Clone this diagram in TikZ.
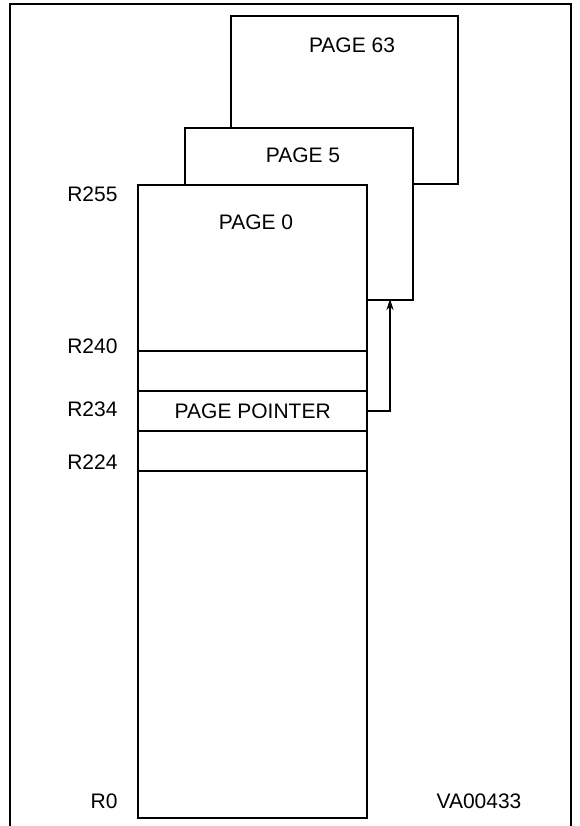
\documentclass[tikz,border=0pt]{standalone}
\usepackage{fontspec}
\setmainfont{Liberation Sans}
\usetikzlibrary{positioning}
\usetikzlibrary{arrows.meta}
\tikzset{x=1pt, y=-1pt,
    every node/.style={
        font=\fontsize{21}{25}\selectfont},
    page/.style={
        draw,
        fill=white,
        line width=2.4pt,
        inner sep=0pt,
        anchor=north west},
    reg/.style={
        anchor=east},
    link/.style={
        draw,
        line width=2.2pt,
        -{Stealth[length=11pt,width=7pt]}}}

\begin{document}
\begin{tikzpicture}
        \useasboundingbox (0,0) rectangle (579,826);
        \draw[line width=2.4pt] (10,826) -- (10,4) -- (571,4) -- (571,826);

        % stacked pages
        \node[page, minimum width=227pt, minimum height=168pt] (page63) at (230,15) {};
        \node[page, minimum width=228pt, minimum height=172pt] (page5) at (184,127) {};
        \node[page, minimum width=229pt, minimum height=633pt] (page0) at (137,184) {};
        \node[page, minimum width=229pt, minimum height=40pt] (slot240) at (137,350) {};
        \node[page, minimum width=229pt, minimum height=40pt] (ptr) at (137,390) {PAGE POINTER};
        \node[page, minimum width=229pt, minimum height=40pt] (slot224) at (137,430) {};

        \node (name63) at (352,45) {PAGE 63};
        \node (name5) at (303,155) {PAGE 5};
        \node (name0) at (256,222) {PAGE 0};

        % register numbers
        \node[reg] (r255) at (121,194) {R255};
        \node[reg] (r240) at (121,346) {R240};
        \node[reg] (r234) at (121,409) {R234};
        \node[reg] (r224) at (121,462) {R224};
        \node[reg] (r0) at (121,801) {R0};
        \node (code) at (479,801) {VA00433};

        \coordinate (tip) at (390,299);
        \draw[link] (ptr.east) -| (tip);
    \end{tikzpicture}
\end{document}
